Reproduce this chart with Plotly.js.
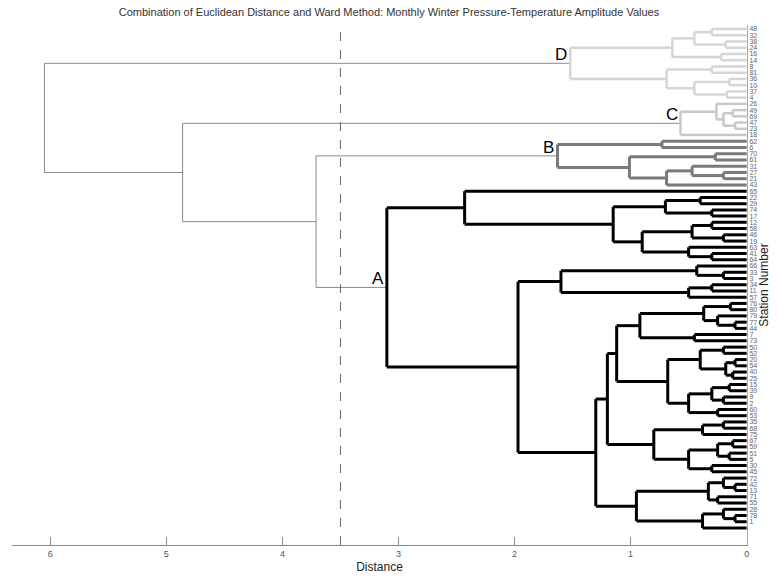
<!DOCTYPE html>
<html><head><meta charset="utf-8">
<script src="https://cdn.plot.ly/plotly-3.0.1.min.js"></script>
<style>html,body{margin:0;padding:0;background:#fff}#chart{width:778px;height:578px}</style>
</head><body><div id="chart"></div>
<script>
// Station numbers, top to bottom (leaf order)
const stationLabels = ["48","32","38","24","16","14","8","81","36","10","37","4","26","49","69","47","23","18",
"62","6","70","61","31","27","21","43","65","22","29","74","17","12","58","46","19","63","41",
"64","66","33","3","34","11","57","76","80","79","77","44","7","73","50","52","20","54","40",
"25","15","39","9","2","60","53","35","68","75","67","59","51","5","30","45","72","42","13",
"71","55","28","78","1"];

// Clusters as nested [mergeDistance, child, child]; numbers alone are leaf positions (1 = top)
const clusterD = [1.52,
  [0.64, [0.45, [0.3, 1, 2], [0.18, 3, 4]], [0.22, 5, 6]],
  [0.69, [0.3, 7, 8], [0.45, [0.15, 9, 10], [0.17, 11, 12]]]];
const clusterC = [0.57, [0.26, 13, [0.2, [0.12, 14, 15], [0.1, 16, 17]]], 18];
const clusterB = [1.63, [0.73, 19, 20], [1.01, [0.27, 21, 22], [0.69, [0.47, 23, [0.2, 24, 25]], 26]]];
const aTop = [2.43, 27, [1.15, [0.7, [0.4, 28, 29], [0.3, 30, 31]],
  [0.9, [0.47, [0.3, 32, 33], [0.2, 34, 35]], [0.5, 36, [0.3, 37, 38]]]]];
const aT = [1.6, [0.43, 39, [0.2, 40, 41]], [0.5, [0.3, 42, 43], 44]];
const aU1a = [0.92, [0.37, [0.14, 45, 46], [0.25, 47, [0.1, 48, 49]]], [0.45, 50, 51]];
const aU1b = [0.68, [0.4, [0.2, 52, 53], [0.18, [0.1, 54, 55], [0.12, 56, 57]]],
  [0.5, [0.3, [0.15, 58, 59], [0.2, 60, 61]], [0.25, 62, 63]]];
const aU2a = [0.8, [0.38, [0.2, 64, 65], 66], [0.5, [0.25, [0.12, 67, 68], [0.15, 69, 70]], [0.3, 71, 72]]];
const aU2 = [0.95, [0.33, [0.2, 73, [0.1, 74, 75]], [0.25, 76, 77]], [0.38, [0.2, 78, [0.1, 79, 80]], 81]];
const aU = [1.3, [1.2, [1.12, aU1a, aU1b], aU2a], aU2];
const aBot = [1.97, aT, aU];
const clusterA = [3.1, aTop, aBot];
// upper links
const linkBA = 3.71, linkCBA = 4.86, linkRoot = 6.05;
const cutoff = 3.5;

const groups = {top:{x:[],y:[]}, D:{x:[],y:[]}, C:{x:[],y:[]}, B:{x:[],y:[]}, A:{x:[],y:[]}};
function seg(g, x0, y0, x1, y1){ groups[g].x.push(x0, x1, null); groups[g].y.push(y0, y1, null); }
function walk(node, g){
  if (typeof node === 'number') return {y: node, h: 0};
  const a = walk(node[1], g), b = walk(node[2], g), h = node[0];
  seg(g, h, a.y, h, b.y);
  seg(g, h, a.y, a.h, a.y);
  seg(g, h, b.y, b.h, b.y);
  return {y: (a.y + b.y) / 2, h: h};
}
const nD = walk(clusterD, 'D'), nC = walk(clusterC, 'C'), nB = walk(clusterB, 'B'), nA = walk(clusterA, 'A');
function link(h, a, b){
  seg('top', h, a.y, h, b.y); seg('top', h, a.y, a.h, a.y); seg('top', h, b.y, b.h, b.y);
  return {y: (a.y + b.y) / 2, h: h};
}
const nBA = link(linkBA, nB, nA);
const nCBA = link(linkCBA, nC, nBA);
link(linkRoot, nD, nCBA);

const styles = {top:{color:'#8a8a8a', width:1}, D:{color:'#d6d6d6', width:2.5}, C:{color:'#c8c8c8', width:2.5},
  B:{color:'#7a7a7a', width:3}, A:{color:'#000000', width:3}};
const traces = Object.keys(groups).map(k => ({type:'scatter', mode:'lines', x:groups[k].x, y:groups[k].y,
  line:{color:styles[k].color, width:styles[k].width}, hoverinfo:'skip', showlegend:false}));

const ann = [['D', nD], ['C', nC], ['B', nB], ['A', nA]].map(([t, n]) => ({x:n.h, y:n.y, text:t, showarrow:false,
  xanchor:'right', yanchor:'bottom', xshift:-1, yshift:-3, font:{family:'Liberation Sans, Arial', size:17, color:'#000'}}));

const tickPos = stationLabels.map((s, i) => i + 1);
Plotly.newPlot('chart', traces, {
  width:778, height:578, margin:{l:12, r:31, t:25, b:33},
  paper_bgcolor:'#fff', plot_bgcolor:'#fff', showlegend:false,
  font:{family:'Liberation Sans, Arial', color:'#333'},
  title:{text:'Combination of Euclidean Distance and Ward Method: Monthly Winter Pressure-Temperature Amplitude Values',
    font:{size:11, color:'#333'}, x:0.5, xanchor:'center', y:0.985, yanchor:'top'},
  xaxis:{range:[6.33, -0.003], tickvals:[6,5,4,3,2,1,0], ticktext:['6','5','4','3','2','1','0'],
    ticks:'inside', ticklen:8, tickcolor:'#888', showline:true, linecolor:'#888', linewidth:1,
    showgrid:false, zeroline:false, tickfont:{size:9, color:'#555'},
    title:{text:'Distance', font:{size:12, color:'#222'}, standoff:4}},
  yaxis:{range:[83.73, 0.359], side:'right', tickvals:tickPos, ticktext:stationLabels,
    ticks:'', showline:true, linecolor:'#aaa', linewidth:1, showgrid:false, zeroline:false,
    tickfont:{size:7, color:'#666'}, title:{text:'Station Number', font:{size:12, color:'#222'}, standoff:2}},
  shapes:[{type:'line', xref:'x', yref:'paper', x0:cutoff, x1:cutoff, y0:0, y1:1,
    line:{color:'#666', width:1, dash:'dash'}}],
  annotations:ann
}, {displayModeBar:false, staticPlot:true});
</script></body></html>
